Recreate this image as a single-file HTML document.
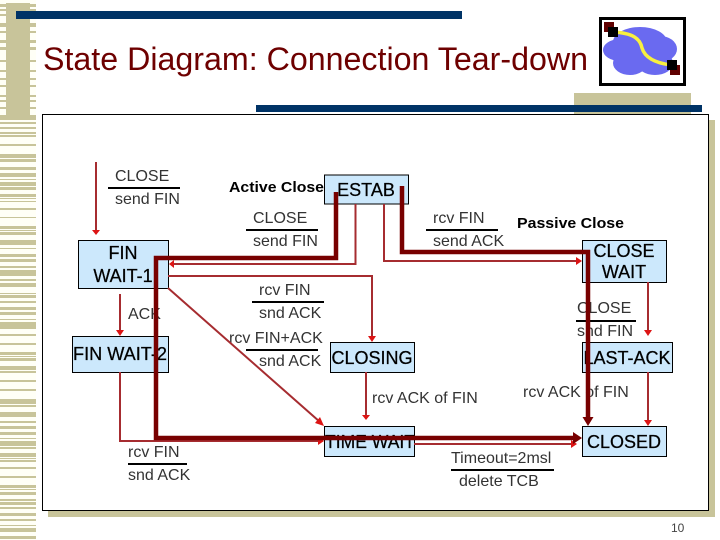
<!DOCTYPE html>
<html><head><meta charset="utf-8"><style>
html,body{margin:0;padding:0;background:#fff}
svg{display:block}
text{font-family:"Liberation Sans",sans-serif}
.l{font-size:16px;fill:#333}
.b{font-size:18px;fill:#000;text-anchor:middle;stroke:#000;stroke-width:.25px}
.t{fill:none;stroke:#a62c30;stroke-width:2}
.k{fill:none;stroke:#780000;stroke-width:4.5}
.h{fill:#dc1414}
.n{fill:#cce8fc;stroke:#000;stroke-width:1}
</style></head><body>
<svg width="720" height="540" viewBox="0 0 720 540" xmlns="http://www.w3.org/2000/svg">
<rect x="0" y="0" width="36" height="540" fill="#fffff6"/>
<g fill="#c8c49a">
<path d="M0 4h36v3H0zM0 9h36v2H0zM0 14h36v2H0zM0 23h36v4H0zM0 31h36v2H0zM0 40h36v3H0zM0 47h36v3H0zM0 60h36v2H0zM0 70h36v2H0zM0 78h36v2H0zM0 85h36v2H0zM0 95h36v2H0zM0 100h36v2H0zM0 107h36v2H0zM0 115h36v5H0zM0 122h36v2H0zM0 127h36v2H0zM0 132h36v2H0zM0 135h36v2H0zM0 144h36v2H0zM0 154h36v4H0zM0 159h36v3H0zM0 167h36v3H0zM0 173h36v4H0zM0 179h36v1H0zM0 182h36v4H0zM0 187h36v3H0zM0 194h36v3H0zM0 198h36v1H0zM0 201h36v1H0zM0 208h36v2H0zM0 217h36v1H0zM0 226h36v3H0zM0 230h36v1H0zM0 232h36v3H0zM0 240h36v2H0zM0 242h36v3H0zM0 248h36v1H0zM0 254h36v3H0zM0 259h36v3H0zM0 266h36v2H0z"/>
<path d="M0 270h36v6H0zM0 279h36v2H0zM0 283h36v4H0zM0 293h36v1H0zM0 295h36v3H0zM0 301h36v2H0zM0 307h36v3H0zM0 312h36v3H0zM0 319h36v1H0zM0 322h36v7H0zM0 334h36v2H0zM0 343h36v2H0zM0 352h36v3H0zM0 356h36v1H0zM0 358h36v3H0zM0 366h36v4H0zM0 371h36v2H0zM0 380h36v2H0zM0 389h36v2H0zM0 399h36v5H0zM0 405h36v2H0zM0 412h36v5H0zM0 421h36v2H0zM0 426h36v3H0zM0 432h36v3H0zM0 438h36v1H0zM0 441h36v5H0zM0 447h36v2H0zM0 453h36v4H0zM0 458h36v1H0zM0 460h36v2H0zM0 467h36v2H0zM0 476h36v2H0zM0 485h36v3H0zM0 489h36v1H0zM0 492h36v3H0zM0 499h36v2H0zM0 502h36v3H0zM0 507h36v2H0zM0 513h36v3H0zM0 519h36v2H0zM0 525h36v1H0zM0 528h36v4H0zM0 536h36v3H0z"/>
<rect x="6" y="3" width="24" height="117"/>
<rect x="574" y="93" width="117" height="21"/>
<rect x="48" y="120" width="667" height="397"/>
</g>
<rect x="16" y="11" width="446" height="8" fill="#003366"/>
<rect x="256" y="105" width="446" height="7" fill="#003366"/>
<rect x="42.500" y="114.500" width="666" height="396" fill="#fff" stroke="#000" stroke-width="1"/>
<text x="43" y="70" font-size="32" fill="#6e0000" textLength="545" lengthAdjust="spacingAndGlyphs">State Diagram: Connection Tear-down</text>

<!-- icon -->
<rect x="600.500" y="18.500" width="84" height="66" fill="#fff" stroke="#000" stroke-width="3"/>
<g fill="#6a6af0">
<ellipse cx="640" cy="42" rx="27" ry="15"/><ellipse cx="620" cy="50" rx="17" ry="11"/><ellipse cx="660" cy="49" rx="17" ry="13"/><ellipse cx="630" cy="63" rx="17" ry="12"/><ellipse cx="655" cy="63" rx="18" ry="12"/><rect x="620" y="40" width="40" height="25"/>
</g>
<path d="M613 32C632 33 640 38 642 48C645 58 655 63 671 65" fill="none" stroke="#f8f040" stroke-width="3.500"/>
<rect x="604" y="22" width="10" height="10" fill="#600000"/>
<rect x="670" y="65" width="10" height="10" fill="#600000"/>
<rect x="608" y="27" width="10" height="10" fill="#000"/>
<rect x="667" y="60" width="10" height="10" fill="#000"/>

<!-- nodes -->
<rect class="n" x="324.500" y="175" width="84" height="29"/>
<rect class="n" x="78.500" y="240.500" width="90" height="48"/>
<rect class="n" x="72.500" y="336.500" width="96" height="36"/>
<rect class="n" x="330.500" y="342.500" width="84" height="30"/>
<rect class="n" x="324.500" y="426.500" width="90" height="30"/>
<rect class="n" x="582.500" y="240.500" width="84" height="42"/>
<rect class="n" x="582.500" y="342.500" width="90" height="30"/>
<rect class="n" x="582.500" y="426.500" width="84" height="30"/>

<text class="b" x="366" y="196">ESTAB</text>
<text class="b" x="123" y="259">FIN</text>
<text class="b" x="123" y="282">WAIT-1</text>
<text class="b" x="120" y="360" textLength="94" lengthAdjust="spacingAndGlyphs">FIN WAIT-2</text>
<text class="b" x="372" y="364">CLOSING</text>
<text class="b" x="370" y="448" textLength="90" lengthAdjust="spacingAndGlyphs">TIME WAIT</text>
<text class="b" x="624" y="257">CLOSE</text>
<text class="b" x="624" y="278">WAIT</text>
<text class="b" x="627" y="364" textLength="87" lengthAdjust="spacingAndGlyphs">LAST-ACK</text>
<text class="b" x="624" y="448">CLOSED</text>

<!-- labels -->
<g class="l">
<text class="l" x="115" y="181">CLOSE</text><text class="l" x="115" y="204">send FIN</text>
<text class="l" x="253" y="223">CLOSE</text><text class="l" x="253" y="246">send FIN</text>
<text class="l" x="433" y="223">rcv FIN</text><text class="l" x="433" y="246">send ACK</text>
<text class="l" x="259" y="295">rcv FIN</text><text class="l" x="259" y="318">snd ACK</text>
<text class="l" x="229" y="343">rcv FIN+ACK</text><text class="l" x="259" y="366">snd ACK</text>
<text class="l" x="128" y="319">ACK</text>
<text class="l" x="372" y="403">rcv ACK of FIN</text>
<text class="l" x="523" y="397">rcv ACK of FIN</text>
<text class="l" x="577" y="313">CLOSE</text><text class="l" x="577" y="336">snd FIN</text>
<text class="l" x="128" y="457">rcv FIN</text><text class="l" x="128" y="480">snd ACK</text>
<text class="l" x="451" y="463">Timeout=2msl</text><text class="l" x="459" y="486">delete TCB</text>
</g>
<text x="229" y="192" font-size="14.500" font-weight="bold" fill="#000" textLength="95" lengthAdjust="spacingAndGlyphs">Active Close</text>
<text x="517" y="228" font-size="14.500" font-weight="bold" fill="#000" textLength="107" lengthAdjust="spacingAndGlyphs">Passive Close</text>
<text x="671" y="532" font-size="12" fill="#444">10</text>
<g fill="#000">
<rect x="108" y="187" width="72" height="2"/><rect x="246" y="229" width="72" height="2"/><rect x="426" y="229" width="72" height="2"/>
<rect x="252" y="301" width="72" height="2"/><rect x="246" y="349" width="72" height="2"/><rect x="576" y="320" width="60" height="2"/>
<rect x="128" y="463" width="59" height="2"/><rect x="451" y="469" width="103" height="2"/>
</g>

<!-- thin connectors -->
<path class="t" d="M96 162V230M355.500 204V264H174M384 204V261H576M168 276H372V336M168 288L320 422M120 294V330M120 372V441H318M366 372V415M648 282V330M648 372V420M414 444H571"/>
<g class="h">
<path d="M92 230h8l-4 5z"/>
<path d="M174 260v8l-5-4zM576 257v8l6-4z"/>
<path d="M368 336h8l-4 6zM116 330h8l-4 6z"/>
<path d="M318 437v8l6-4z"/>
<path d="M324 426l-9-3 5-6z"/>
<path d="M362 415h8l-4 5zM644 330h8l-4 6zM644 420h8l-4 6zM571 440v8l6-4z"/>
</g>

<!-- thick connectors -->
<path class="k" d="M336 192V258H156V438H574M402 186V252H588V417"/>
<path d="M573 432l9 6-9 6zM582.500 417l5.500 9 5.500-9z" fill="#780000"/>
</svg>
</body></html>
